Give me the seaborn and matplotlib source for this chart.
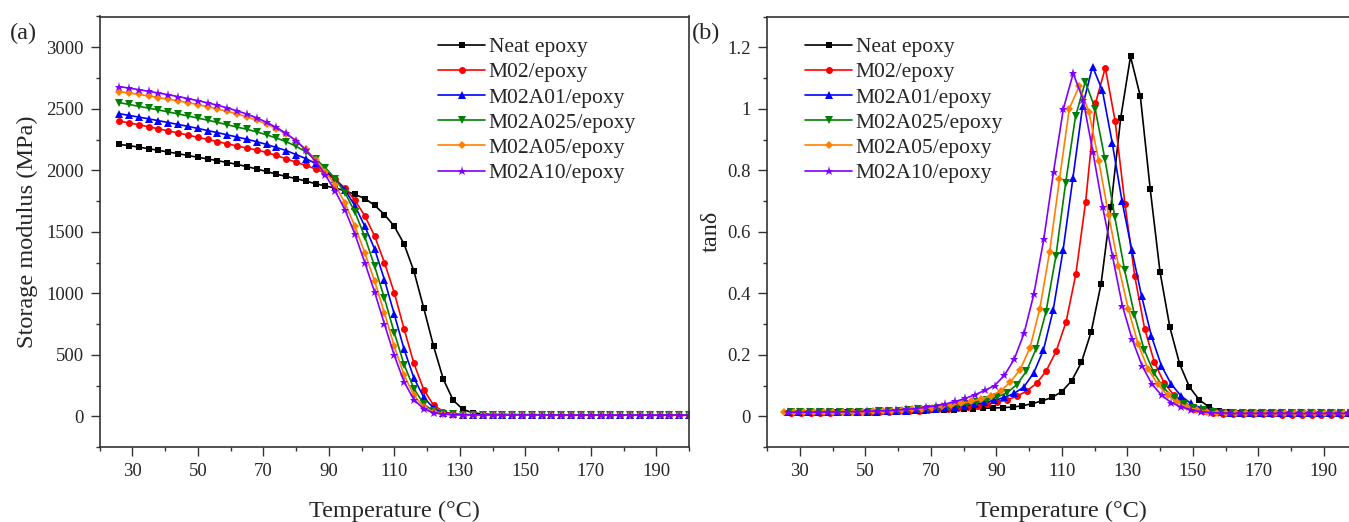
import numpy as np
import pandas as pd
import seaborn as sns
import matplotlib.pyplot as plt
from matplotlib.ticker import MultipleLocator, FuncFormatter

# sample names, colours and markers
samples = ["Neat epoxy", "M02/epoxy", "M02A01/epoxy", "M02A025/epoxy", "M02A05/epoxy", "M02A10/epoxy"]
colors = ["#000000", "#FF0000", "#0000FF", "#008000", "#FF8000", "#8000FF"]
markers = ["s", "o", "^", "v", "D", "*"]
msizes = [4.5, 5, 5.5, 5.5, 4.5, 6.5]

# (a) storage modulus, MPa, temperature 26..200 C every 3 C
temp_E = np.arange(26, 201, 3)
E_neat = [2210, 2200, 2188, 2175, 2162, 2148, 2135, 2120, 2106, 2092, 2078, 2063, 2048, 2030, 2010,
          1990, 1968, 1950, 1932, 1912, 1890, 1872, 1855, 1833, 1803, 1770, 1715, 1640, 1545, 1400,
          1180, 880, 570, 300, 130, 55, 28, 18,
          15, 14, 14, 13, 13, 12, 12, 12, 11, 11, 11, 11, 10, 10, 10, 10, 10, 10, 9, 9, 9]
E_m02 = [2400, 2385, 2370, 2353, 2337, 2320, 2303, 2286, 2268, 2251, 2233, 2215, 2197, 2180, 2165,
         2145, 2120, 2093, 2065, 2040, 2010, 1975, 1925, 1855, 1755, 1630, 1465, 1250, 1005, 710,
         430, 215, 90, 38, 20, 14,
         12, 12, 11, 11, 11, 10, 10, 10, 10, 9, 9, 9, 9, 9, 8, 8, 8, 8, 8, 8, 8, 8, 8]
E_a01 = [2460, 2446, 2432, 2418, 2403, 2388, 2372, 2357, 2340, 2323, 2306, 2288, 2270, 2252, 2232,
         2210, 2185, 2160, 2128, 2095, 2055, 1998, 1925, 1838, 1710, 1545, 1360, 1110, 830, 545,
         311, 154, 65, 28, 16, 13,
         12, 12, 11, 11, 11, 11, 10, 10, 10, 10, 10, 10, 9, 9, 9, 9, 9, 9, 9, 9, 9, 9, 9]
E_a025 = [2550, 2535, 2520, 2505, 2490, 2474, 2458, 2441, 2424, 2407, 2389, 2370, 2351, 2333, 2312,
          2288, 2262, 2232, 2195, 2150, 2090, 2020, 1930, 1815, 1660, 1460, 1220, 960, 680, 420,
          225, 100, 42, 22, 15, 12,
          11, 11, 11, 10, 10, 10, 10, 10, 10, 9, 9, 9, 9, 9, 9, 9, 9, 9, 9, 9, 9, 9, 9]
E_a05 = [2640, 2628, 2616, 2604, 2591, 2578, 2564, 2550, 2534, 2517, 2499, 2479, 2458, 2434, 2407,
         2375, 2338, 2295, 2240, 2170, 2085, 1985, 1880, 1730, 1545, 1330, 1100, 840, 570, 335,
         170, 75, 34, 18, 14, 12,
         11, 11, 10, 10, 10, 10, 10, 10, 9, 9, 9, 9, 9, 9, 9, 9, 9, 9, 9, 9, 9, 9, 9]
E_a10 = [2680, 2668, 2655, 2642, 2628, 2614, 2599, 2583, 2566, 2548, 2529, 2507, 2483, 2457, 2426,
         2390, 2348, 2300, 2240, 2165, 2070, 1960, 1830, 1675, 1480, 1250, 1010, 750, 495, 280,
         135, 60, 28, 16, 13, 12,
         11, 11, 10, 10, 10, 10, 10, 10, 10, 9, 9, 9, 9, 9, 9, 9, 9, 9, 9, 9, 9, 9, 9]

# (b) tan delta, each sample read from its own first temperature, every 3 C
tan_start = [26.0, 27.3, 26.4, 27.2, 25.3, 26.5]
tan_neat = [0.012, 0.012, 0.012, 0.012, 0.012, 0.013, 0.013, 0.013, 0.014, 0.014, 0.015, 0.015,
            0.016, 0.017, 0.018, 0.019, 0.020, 0.021, 0.023, 0.024, 0.026, 0.027, 0.028, 0.030,
            0.034, 0.041, 0.050, 0.061, 0.080, 0.115, 0.175, 0.275, 0.43, 0.68, 0.97, 1.17,
            1.04, 0.74, 0.47, 0.29, 0.17, 0.095, 0.053, 0.030, 0.018, 0.013, 0.011, 0.010,
            0.009, 0.009, 0.009, 0.008, 0.008, 0.008, 0.008, 0.008, 0.008, 0.008, 0.008]
tan_m02 = [0.012, 0.012, 0.012, 0.012, 0.012, 0.013, 0.013, 0.013, 0.014, 0.014, 0.015, 0.016,
           0.017, 0.018, 0.020, 0.022, 0.024, 0.027, 0.030, 0.034, 0.039, 0.045, 0.053, 0.065,
           0.082, 0.107, 0.148, 0.212, 0.306, 0.462, 0.698, 1.018, 1.133, 0.96, 0.69, 0.455,
           0.285, 0.175, 0.108, 0.068, 0.041, 0.025, 0.016, 0.011, 0.008, 0.007,
           0.006, 0.006, 0.006, 0.006, 0.005, 0.005, 0.005, 0.005, 0.005, 0.005, 0.005, 0.005]
tan_a01 = [0.013, 0.013, 0.013, 0.013, 0.013, 0.013, 0.014, 0.014, 0.015, 0.015, 0.016, 0.017,
           0.018, 0.020, 0.022, 0.024, 0.027, 0.030, 0.034, 0.039, 0.045, 0.052, 0.061, 0.074,
           0.095, 0.14, 0.215, 0.346, 0.54, 0.774, 1.01, 1.137, 1.06, 0.89, 0.70, 0.54,
           0.39, 0.26, 0.165, 0.105, 0.066, 0.042, 0.027, 0.019, 0.014, 0.011, 0.010,
           0.009, 0.009, 0.009, 0.009, 0.009, 0.009, 0.009, 0.009, 0.009, 0.009, 0.009]
tan_a025 = [0.013, 0.013, 0.013, 0.013, 0.013, 0.014, 0.014, 0.015, 0.015, 0.016, 0.017, 0.018,
            0.020, 0.022, 0.024, 0.027, 0.031, 0.035, 0.040, 0.046, 0.053, 0.062, 0.076, 0.102,
            0.146, 0.22, 0.34, 0.52, 0.76, 0.975, 1.088, 1.0, 0.835, 0.648, 0.475, 0.33,
            0.215, 0.14, 0.091, 0.060, 0.040, 0.027, 0.019, 0.014, 0.011, 0.010,
            0.009, 0.009, 0.009, 0.009, 0.009, 0.009, 0.009, 0.009, 0.009, 0.009, 0.009, 0.009]
tan_a05 = [0.013, 0.013, 0.013, 0.013, 0.013, 0.014, 0.014, 0.015, 0.015, 0.016, 0.017, 0.018,
           0.020, 0.022, 0.025, 0.028, 0.032, 0.037, 0.042, 0.048, 0.056, 0.066, 0.082, 0.111,
           0.152, 0.223, 0.35, 0.535, 0.77, 1.0, 1.073, 0.99, 0.83, 0.655, 0.49, 0.35,
           0.235, 0.155, 0.104, 0.068, 0.045, 0.030, 0.021, 0.015, 0.012, 0.010,
           0.009, 0.009, 0.009, 0.009, 0.009, 0.009, 0.009, 0.009, 0.009, 0.009, 0.009, 0.009, 0.009]
tan_a10 = [0.013, 0.013, 0.013, 0.013, 0.014, 0.014, 0.015, 0.015, 0.016, 0.017, 0.018, 0.020,
           0.022, 0.025, 0.029, 0.034, 0.040, 0.048, 0.058, 0.070, 0.084, 0.100, 0.133, 0.186,
           0.27, 0.398, 0.575, 0.795, 1.0, 1.115, 1.03, 0.86, 0.68, 0.52, 0.36, 0.25,
           0.165, 0.105, 0.068, 0.044, 0.030, 0.021, 0.015, 0.012, 0.010,
           0.009, 0.009, 0.009, 0.009, 0.009, 0.009, 0.009, 0.009, 0.009, 0.009, 0.009, 0.009, 0.009]

E_all = [E_neat, E_m02, E_a01, E_a025, E_a05, E_a10]
tan_all = [tan_neat, tan_m02, tan_a01, tan_a025, tan_a05, tan_a10]

sns.set_theme(style="ticks")
plt.rcParams['font.family'] = ['Liberation Serif', 'DejaVu Serif']

W, H = 1349, 522
fig = plt.figure(figsize=(W / 100, H / 100), dpi=100)
ax1 = fig.add_axes([99.5 / W, 75 / H, 589.5 / W, 430.5 / H])
ax2 = fig.add_axes([767 / W, 75 / H, 589.5 / W, 430.5 / H])

for name, c, m, ms, vals in zip(samples, colors, markers, msizes, E_all):
    sns.lineplot(x=temp_E, y=vals, ax=ax1, color=c, marker=m, markersize=ms, mec=c, mew=0,
                 lw=1.2, label=name, estimator=None)

for name, c, m, ms, t0, vals in zip(samples, colors, markers, msizes, tan_start, tan_all):
    t = t0 + 3 * np.arange(len(vals))
    sns.lineplot(x=t, y=vals, ax=ax2, color=c, marker=m, markersize=ms, mec=c, mew=0,
                 lw=1.2, label=name, estimator=None)

ax1.set_ylim(-250, 3250)
ax1.yaxis.set_major_locator(MultipleLocator(500))
ax1.yaxis.set_minor_locator(MultipleLocator(250))
ax2.set_ylim(-0.1, 1.3)
ax2.yaxis.set_major_locator(MultipleLocator(0.2))
ax2.yaxis.set_minor_locator(MultipleLocator(0.1))
ax2.yaxis.set_major_formatter(FuncFormatter(lambda v, p: f"{v:g}"))

for ax in (ax1, ax2):
    ax.set_xlim(20, 200)
    ax.xaxis.set_major_locator(MultipleLocator(20, offset=10))
    ax.xaxis.set_minor_locator(MultipleLocator(20))
    ax.tick_params(which='major', direction='out', length=6.5, width=1, color='#333333',
                   labelsize=13.5, pad=5)
    ax.tick_params(which='minor', direction='out', length=3.2, width=1, color='#333333')
    for s in ax.spines.values():
        s.set_visible(True)
        s.set_color('#333333')
        s.set_linewidth(1.2)
    ax.set_xlabel("Temperature (°C)", fontsize=17.5, labelpad=15)
    ax.legend(frameon=False, fontsize=15.5, handlelength=2.2, handletextpad=0.15,
              labelspacing=0.24, borderpad=0, borderaxespad=0, loc='upper left')

ax1.legend_.set_bbox_to_anchor((438 / W, 1 - 37 / H), transform=fig.transFigure)
ax2.legend_.set_bbox_to_anchor((805 / W, 1 - 37 / H), transform=fig.transFigure)

ax1.set_ylabel("Storage modulus (MPa)", fontsize=17.5, labelpad=6)
ax2.set_ylabel("tanδ", fontsize=17.5, labelpad=4)

fig.text(10 / W, 1 - 33 / H, "(a)", fontsize=17.5, va='center', ha='left')
fig.text(692 / W, 1 - 33 / H, "(b)", fontsize=17.5, va='center', ha='left')

fig.savefig("out.png", dpi=100)
